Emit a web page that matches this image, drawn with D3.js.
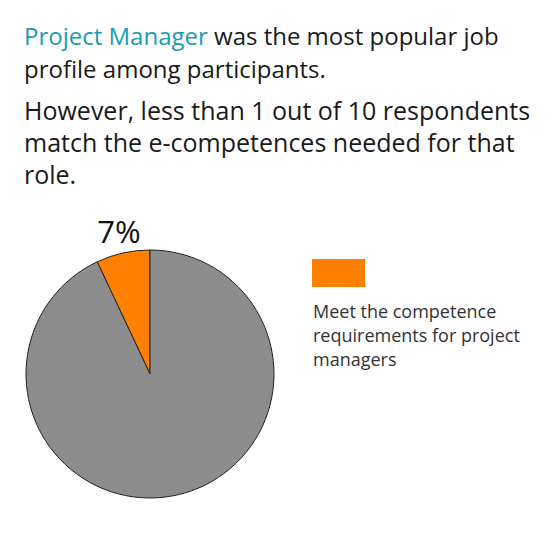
<!DOCTYPE html>
<html><head><meta charset="utf-8">
<script src="https://cdn.jsdelivr.net/npm/d3@7"></script>
<style>body{margin:0;background:#fff}</style></head>
<body><svg id="c" width="555" height="546"></svg>
<script>
const categories = ["Meet the competence requirements for project managers", "Others"];
const values = [7, 93];
const colors = ["#ff8000", "#8c8c8c"];
const legendLines = ["Meet the competence", "requirements for project", "managers"];

const svg = d3.select("#c");
const font = "'Open Sans', 'Noto Sans', sans-serif";
const t = svg.append("g").attr("font-family", font).attr("font-size", 24).attr("fill", "#1a1a1a");
const l1 = t.append("text").attr("x", 24).attr("y", 45);
l1.append("tspan").attr("fill", "#1b9cb3").text("Project Manager");
l1.append("tspan").text(" was the most popular job");
t.append("text").attr("x", 24).attr("y", 78).text("profile among participants.");
["However, less than 1 out of 10  respondents", "match the e-competences needed for that", "role."]
  .forEach((s, i) => t.append("text").attr("x", 24).attr("y", 120 + i * 32).attr("font-size", 25).text(s));

const total = d3.sum(values);
const a0 = -values[0] / total * 2 * Math.PI;
const pie = d3.pie().sort(null).startAngle(a0).endAngle(a0 + 2 * Math.PI);
const arc = d3.arc().innerRadius(0).outerRadius(124);
const g = svg.append("g").attr("transform", "translate(150,374)");
g.selectAll("path").data(pie(values)).join("path")
  .attr("d", arc).attr("fill", (d, i) => colors[i])
  .attr("stroke", "#222").attr("stroke-width", 1);

svg.append("text").attr("x", 119).attr("y", 243).attr("text-anchor", "middle")
  .attr("font-family", font).attr("font-size", 31).attr("fill", "#111")
  .text(Math.round(values[0] / total * 100) + "%");

svg.append("rect").attr("x", 312).attr("y", 259).attr("width", 53).attr("height", 28).attr("fill", colors[0]);
legendLines.forEach((s, i) => svg.append("text").attr("x", 313).attr("y", 318 + i * 24)
  .attr("font-family", font).attr("font-size", 18).attr("fill", "#333").text(s));
</script></body></html>
